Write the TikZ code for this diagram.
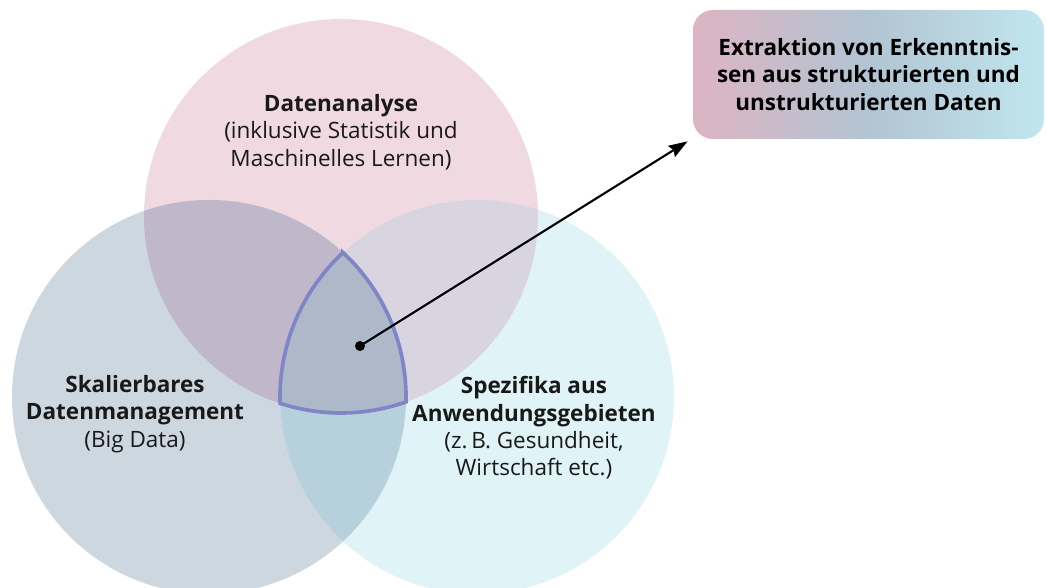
\documentclass[tikz,border=0pt]{standalone}
\usepackage{fontspec}
\setmainfont{Open Sans}
\usepackage{xcolor}
\usepackage{tikz}
\usetikzlibrary{arrows.meta, positioning, calc}
\definecolor{analysecolor}{RGB}{240,217,225}
\definecolor{datacolor}{RGB}{205,215,224}
\definecolor{domaincolor}{RGB}{224,243,246}
\definecolor{analysedatacolor}{RGB}{192,184,202}
\definecolor{analysedomaincolor}{RGB}{216,213,225}
\definecolor{datadomaincolor}{RGB}{183,209,220}
\definecolor{corecolor}{RGB}{173,184,201}
\definecolor{outlinecolor}{RGB}{128,133,200}
\definecolor{boxleft}{RGB}{222,180,195}
\definecolor{boxmid}{RGB}{178,196,210}
\definecolor{boxright}{RGB}{192,230,238}

\begin{document}
\begin{tikzpicture}[
    setlabel/.style={align=center, font=\fontsize{12.8}{15.6}\selectfont, text=black!90},
    resultbox/.style={rectangle, rounded corners=0.4cm, minimum width=7.02cm, minimum height=2.58cm, left color=boxleft, right color=boxright, middle color=boxmid, align=center, font=\fontsize{12.8}{15.6}\selectfont\bfseries},
    core/.style={draw=outlinecolor, line width=2.1pt, fill=corecolor, line join=miter}
]
\useasboundingbox (0,0) rectangle (20.92,11.76);

% Circles
\fill[analysecolor] (6.82,7.44) circle (3.94);
\fill[datacolor] (4.18,3.82) circle (3.94);
\fill[domaincolor] (9.54,3.82) circle (3.94);

% Overlaps
\begin{scope}
\clip (6.82,7.44) circle (3.94);
\fill[analysedatacolor] (4.18,3.82) circle (3.94);
\fill[analysedomaincolor] (9.54,3.82) circle (3.94);
\end{scope}
\begin{scope}
\clip (4.18,3.82) circle (3.94);
\fill[datadomaincolor] (9.54,3.82) circle (3.94);
\end{scope}

% Core region
\draw[core] (6.86,6.708) arc[start angle=132.86, end angle=181.85, radius=3.94]
  arc[start angle=252.0, end angle=289.25, radius=3.94]
  arc[start angle=-1.45, end angle=47.14, radius=3.94] -- cycle;

% Labels
\node[setlabel] (analyse) at (6.82,9.12) {\textbf{Datenanalyse}\\(inklusive Statistik und\\Maschinelles Lernen)};
\node[setlabel] (data) at (2.7,3.48) {\textbf{Skalierbares}\\\textbf{Datenmanagement}\\(Big Data)};
\node[setlabel] (domain) at (10.68,3.2) {\textbf{Spezifika aus}\\\textbf{Anwendungsgebieten}\\(z.\,B. Gesundheit,\\Wirtschaft etc.)};

% Result
\node[resultbox] (result) at (17.37,10.27) {Extraktion von Erkenntnis-\\sen aus strukturierten und\\unstrukturierten Daten};
\node[circle, fill=black, inner sep=0pt, minimum size=0.2cm] (hub) at (7.2,4.84) {};
\coordinate (tip) at ($(result.south west)+(-0.1,-0.04)$);
\draw[-{Stealth[length=0.38cm, width=0.26cm, inset=0.05cm]}, line width=1.2pt] (hub.center) -- (tip);

\end{tikzpicture}
\end{document}
